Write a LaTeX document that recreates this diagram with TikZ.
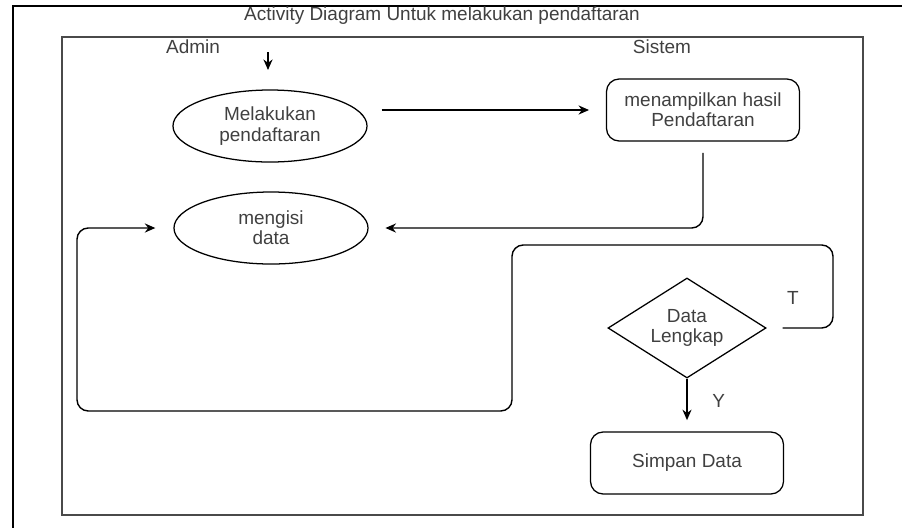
\documentclass[tikz,border=0pt]{standalone}
\usepackage{fontspec}
\setmainfont{Liberation Sans}
\usetikzlibrary{arrows.meta,shapes.geometric}
\definecolor{txtGray}{HTML}{404040}
\definecolor{frameGray}{HTML}{4A4A4A}

\begin{document}
\begin{tikzpicture}[x=0.025cm, y=-0.025cm, font=\fontsize{13.5}{14.5}\selectfont,
      act/.style={ellipse, draw, line width=0.9pt, minimum width=4.85cm, minimum height=1.8cm,
                  align=center, text=txtGray, inner sep=0pt},
      box/.style={draw, line width=0.9pt, rounded corners=9pt, align=center, text=txtGray,
                  minimum width=4.825cm, minimum height=1.55cm},
      cond/.style={diamond, draw, line width=0.9pt, minimum width=3.95cm, minimum height=2.5cm,
                   aspect=1.6, align=center, text=txtGray, inner sep=0pt},
      lbl/.style={text=txtGray},
      arr/.style={-{Stealth[length=7.5pt, width=6.5pt]}, line width=1pt}]
    \useasboundingbox (0,0) rectangle (902,528);
    % frames
    \draw[line width=1.1pt] (902,6) -- (13,6) -- (13,528);
    \draw[frameGray, line width=1.3pt] (62,37) rectangle (863,515);
    \node[lbl] (title) at (442,16) {Activity Diagram Untuk melakukan pendaftaran};
    \node[lbl] (admin) at (193,47) {Admin};
    \node[lbl] (sistem) at (662,47) {Sistem};
    % activities
    \coordinate (start) at (268,52);
    \node[act] (reg) at (270,126) {Melakukan\\pendaftaran};
    \node[act] (fill) at (271,228) {mengisi\\data};
    \node[box] (show) at (703,110) {menampilkan hasil\\Pendaftaran};
    \node[cond] (cek) at (687,328) {Data\\Lengkap};
    \node[box] (save) at (687,463) {Simpan Data};
    % flows
    \draw[arr] (start) -- (268,70);
    \draw[arr, shorten <=0.35cm, shorten >=0.42cm] (reg.east |- show.west) -- (show.west);
    \draw[arr, rounded corners=8pt, shorten <=0.28cm, shorten >=0.42cm] (show.south) |- (fill.east);
    \draw[arr, rounded corners=8pt, shorten <=0.4cm, shorten >=0.45cm]
      (cek.east) -| (833,245) -| (512,411) -| (77,228) -- (fill.west);
    \draw[arr, shorten >=0.28cm] (cek.south) -- (save.north) node[lbl, pos=0.42, right=0.5cm] {Y};
    \node[lbl] (tlabel) at (793,298) {T};
  \end{tikzpicture}
\end{document}
